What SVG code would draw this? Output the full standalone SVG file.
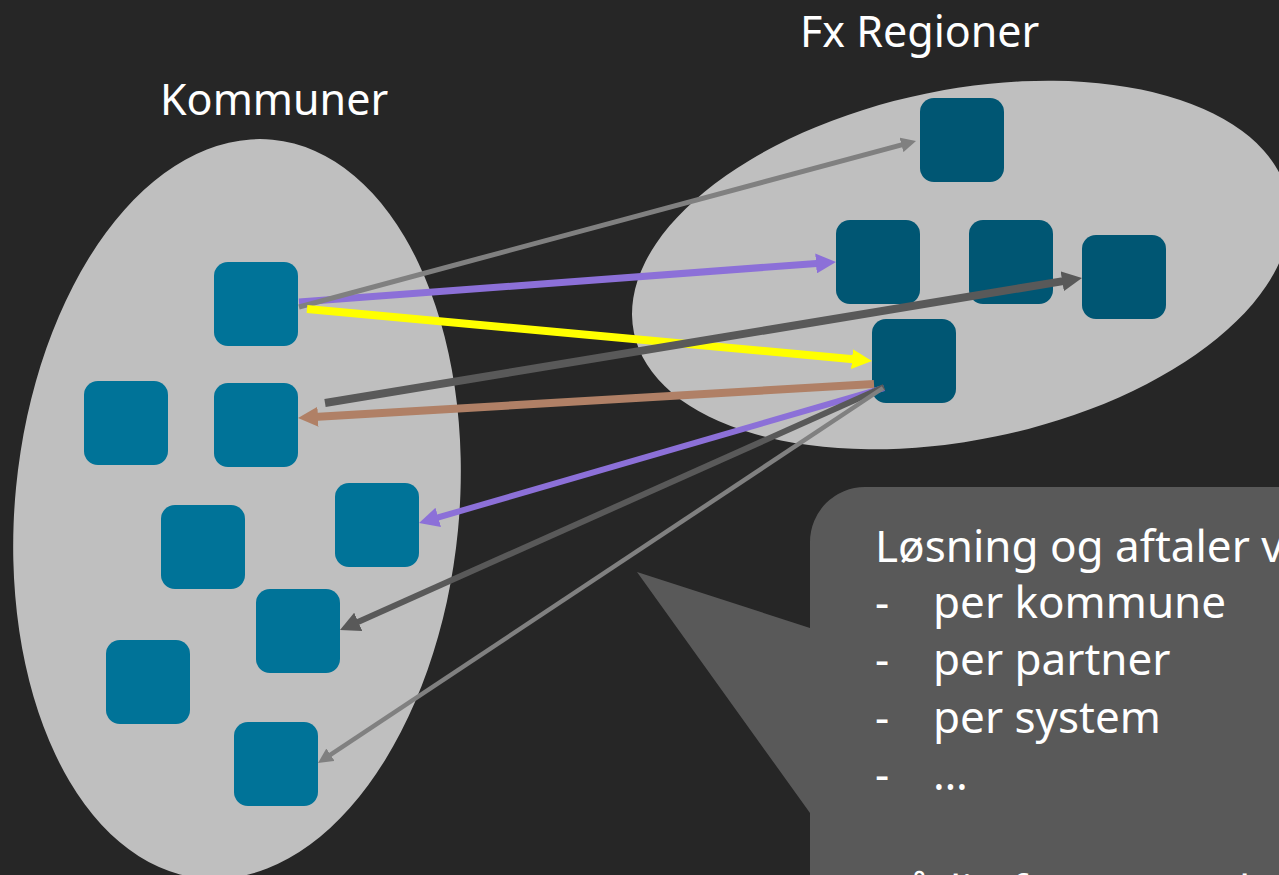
<svg xmlns="http://www.w3.org/2000/svg" width="1279" height="875" viewBox="0 0 1279 875">
<style>
.bg{fill:#262626}
.grp{fill:#bfbfbf}
.kom{fill:#007398}
.reg{fill:#005673}
.t{font-family:"Noto Sans","Open Sans","DejaVu Sans",sans-serif;fill:#ffffff;font-size:44px}
.ttl{font-size:43px}
.c{fill:none;stroke-linecap:butt}
.callout{fill:#595959}
</style>
<defs>
<marker id="ah-gray" markerUnits="userSpaceOnUse" viewBox="0 0 15 15" markerWidth="15" markerHeight="15" refX="3" refY="7.5" orient="auto"><path d="M0,0 L15,7.5 L0,15 z" fill="#808080"/></marker>
<marker id="ah-purple" markerUnits="userSpaceOnUse" viewBox="0 0 20 20" markerWidth="20" markerHeight="20" refX="4" refY="10" orient="auto"><path d="M0,0 L20,10 L0,20 z" fill="#8c70d8"/></marker>
<marker id="ah-yellow" markerUnits="userSpaceOnUse" viewBox="0 0 20 20" markerWidth="20" markerHeight="20" refX="4" refY="10" orient="auto"><path d="M0,0 L20,10 L0,20 z" fill="#ffff00"/></marker>
<marker id="ah-dark" markerUnits="userSpaceOnUse" viewBox="0 0 20 20" markerWidth="20" markerHeight="20" refX="4" refY="10" orient="auto"><path d="M0,0 L20,10 L0,20 z" fill="#595959"/></marker>
<marker id="ah-brown" markerUnits="userSpaceOnUse" viewBox="0 0 20 20" markerWidth="20" markerHeight="20" refX="4" refY="10" orient="auto"><path d="M0,0 L20,10 L0,20 z" fill="#b08066"/></marker>
</defs>
<rect class="bg" x="0" y="0" width="1279" height="875"/>

<g id="kommuner">
<ellipse class="grp" cx="237" cy="509" rx="222" ry="371" transform="rotate(5.5 237 509)"/>
<text class="t ttl" x="160" y="115">Kommuner</text>
</g>
<g id="regioner">
<ellipse class="grp" cx="961" cy="265" rx="334" ry="175" transform="rotate(-11.7 961 265)"/>
<text class="t ttl" x="800" y="47">Fx Regioner</text>
</g>

<g id="k1"><rect class="kom" x="214" y="262" width="84" height="84" rx="14"/></g>
<g id="k2"><rect class="kom" x="84" y="381" width="84" height="84" rx="14"/></g>
<g id="k3"><rect class="kom" x="214" y="383" width="84" height="84" rx="14"/></g>
<g id="k4"><rect class="kom" x="335" y="483" width="84" height="84" rx="14"/></g>
<g id="k5"><rect class="kom" x="161" y="505" width="84" height="84" rx="14"/></g>
<g id="k6"><rect class="kom" x="256" y="589" width="84" height="84" rx="14"/></g>
<g id="k7"><rect class="kom" x="106" y="640" width="84" height="84" rx="14"/></g>
<g id="k8"><rect class="kom" x="234" y="722" width="84" height="84" rx="14"/></g>

<g id="r1"><rect class="reg" x="920" y="98" width="84" height="84" rx="14"/></g>
<g id="r2"><rect class="reg" x="836" y="220" width="84" height="84" rx="14"/></g>
<g id="r3"><rect class="reg" x="969" y="220" width="84" height="84" rx="14"/></g>
<g id="r4"><rect class="reg" x="1082" y="235" width="84" height="84" rx="14"/></g>
<g id="r5"><rect class="reg" x="872" y="319" width="84" height="84" rx="14"/></g>

<g id="connectors" class="c">
<line x1="299" y1="302" x2="820" y2="263.2" stroke="#8c70d8" stroke-width="7" marker-end="url(#ah-purple)"/>
<line x1="299" y1="307" x2="904.4" y2="144.1" stroke="#808080" stroke-width="5" marker-end="url(#ah-gray)"/>
<line x1="307" y1="309" x2="856" y2="359.5" stroke="#ffff00" stroke-width="8" marker-end="url(#ah-yellow)"/>
<line x1="325" y1="403" x2="1066.2" y2="280.6" stroke="#595959" stroke-width="8" marker-end="url(#ah-dark)"/>
<line x1="874" y1="384" x2="314" y2="417" stroke="#b08066" stroke-width="8" marker-end="url(#ah-brown)"/>
<line x1="884" y1="388" x2="434.4" y2="518.5" stroke="#8c70d8" stroke-width="6" marker-end="url(#ah-purple)"/>
<line x1="884" y1="387" x2="354.6" y2="623.5" stroke="#595959" stroke-width="6" marker-end="url(#ah-dark)"/>
<line x1="883" y1="388" x2="328" y2="756.4" stroke="#808080" stroke-width="4.5" marker-end="url(#ah-gray)"/>
</g>

<g id="callout">
<path class="callout" d="M810,542 A55,55 0 0 1 865,487 L1290,487 L1290,885 L810,885 L810,813 L637,572 L810,628 Z"/>
<text class="t" x="875" y="562">Løsning og aftaler v</text>
<text class="t" x="875" y="618">-</text><text class="t" x="933" y="618">per kommune</text>
<text class="t" x="875" y="675">-</text><text class="t" x="933" y="675">per partner</text>
<text class="t" x="875" y="733">-</text><text class="t" x="933" y="733">per system</text>
<text class="t" x="875" y="790">-</text><text class="t" x="933" y="790">…</text>
<text class="t" x="875" y="907">Dårlig for mange kommuner</text>
</g>
</svg>
